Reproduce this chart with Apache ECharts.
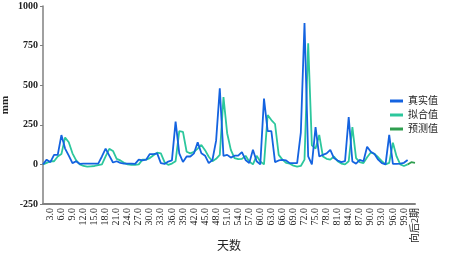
<!DOCTYPE html>
<html><head><meta charset="utf-8">
<script src="https://cdn.jsdelivr.net/npm/echarts@6/dist/echarts.min.js"></script>
<style>html,body{margin:0;padding:0;background:#fff}#c{width:472px;height:259px}</style>
</head><body><div id="c"></div>
<script>
const dayLabels = [];
for (let d = 1; d <= 100; d++) dayLabels.push(d + '.0');
const categories = dayLabels.concat(['向后1期', '向后2期']);

const actual = [0,30,14,60,60,185,100,55,8,20, 3,5,5,5,5,5,50,100,55,12, 20,10,5,5,5,3,30,25,30,65, 65,70,8,3,18,25,270,70,15,50,
 50,70,140,70,55,8,28,150,480,54, 60,43,55,55,77,28,8,92,20,0, 415,210,210,14,25,28,25,8,8,8, 200,893,50,0,235,50,60,70,92,40,
 25,14,20,298,18,5,28,20,112,80, 66,30,8,0,186,3,3,5,10,28];
const fitted = [0,10,20,20,50,65,170,140,70,25, 0,-10,-14,-12,-10,-5,0,50,98,85, 35,25,10,0,-3,-3,0,30,30,40, 58,74,70,14,-3,5,20,210,205,80,
 70,80,100,123,90,48,20,35,60,425, 197,92,40,33,35,54,18,0,54,18, 0,312,280,255,60,30,10,5,-8,-14, -10,30,765,120,100,186,50,35,30,50,
 20,5,0,20,235,40,15,8,45,75, 66,45,20,0,10,137,50,0,-10,0];
const predicted = new Array(99).fill(null).concat([0,14,10]);

const yTicks = {min: -250, max: 1000, interval: 250};
const serif = 'Liberation Serif, "Times New Roman", "Noto Sans CJK SC", serif';

const chart = echarts.init(document.getElementById('c'), null, {renderer: 'canvas'});
chart.setOption({
  animation: false,
  textStyle: {fontFamily: serif},
  grid: {left: 43, right: 57, top: 6, bottom: 55, containLabel: false, outerBoundsMode: 'none'},
  legend: {
    orient: 'vertical', left: 385, top: 91, itemWidth: 13, itemHeight: 3, itemGap: 4,
    icon: 'rect',
    textStyle: {fontFamily: serif, fontSize: 10, color: '#222'},
    data: ['真实值', '拟合值', '预测值']
  },
  xAxis: {
    type: 'category', data: categories, boundaryGap: false,
    name: '天数', nameLocation: 'middle', nameGap: 37, nameMoveOverlap: false,
    nameTextStyle: {fontFamily: serif, fontSize: 12, color: '#222'},
    axisLine: {onZero: false, lineStyle: {color: '#808080', width: 2}},
    axisTick: {show: false},
    axisLabel: {rotate: 90, fontSize: 10, color: '#222', margin: 4, fontFamily: serif,
      interval: function (i) { return (i + 1) % 3 === 0; }},
    splitLine: {show: false}
  },
  yAxis: {
    type: 'value', min: yTicks.min, max: yTicks.max, interval: yTicks.interval,
    name: 'mm', nameLocation: 'middle', nameGap: 32, nameRotate: 90, nameMoveOverlap: false,
    nameTextStyle: {fontFamily: serif, fontSize: 11, color: '#222', fontWeight: 'bold'},
    axisLine: {show: true, lineStyle: {color: '#808080', width: 1.5}},
    axisTick: {show: true, length: 3, lineStyle: {color: '#808080'}},
    axisLabel: {fontSize: 10, color: '#222', margin: 5, fontFamily: serif, fontWeight: 'bold',
      formatter: function (v) { return String(v); }},
    splitLine: {show: false}
  },
  series: [
    {name: '真实值', type: 'line', data: actual, symbol: 'none', z: 3,
     lineStyle: {color: '#1463e0', width: 1.8}, itemStyle: {color: '#1463e0'}},
    {name: '拟合值', type: 'line', data: fitted, symbol: 'none', z: 2,
     lineStyle: {color: '#2cc79c', width: 1.8}, itemStyle: {color: '#2cc79c'}},
    {name: '预测值', type: 'line', data: predicted, symbol: 'none', z: 2,
     lineStyle: {color: '#2f9e4f', width: 1.8}, itemStyle: {color: '#2f9e4f'}}
  ]
});
</script></body></html>
